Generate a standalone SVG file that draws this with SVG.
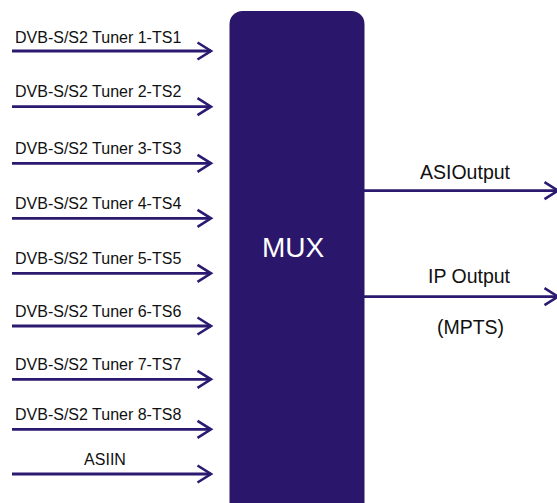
<svg xmlns="http://www.w3.org/2000/svg" width="557" height="503" viewBox="0 0 557 503">
<defs>
<marker id="chev" markerUnits="userSpaceOnUse" markerWidth="20" markerHeight="22" refX="15" refY="10" orient="auto" viewBox="0 0 20 22">
<path d="M1.5,1.5 L15,10 L1.5,18.5" fill="none" stroke="#2b1a70" stroke-width="2.6" stroke-linejoin="miter"/>
</marker>
<style>
.lbl{font-family:"Liberation Sans",Arial,sans-serif;font-size:16px;fill:#111}
.out{font-family:"Liberation Sans",Arial,sans-serif;font-size:19.5px;fill:#111;text-anchor:middle}
.ln{stroke:#2b1a70;stroke-width:2.8;fill:none;marker-end:url(#chev)}
</style>
</defs>
<rect width="557" height="503" fill="#fff"/>
<g id="mux">
<rect x="229.5" y="11" width="135" height="520" rx="13" fill="#2a176b"/>
<text x="293" y="256.5" font-family="Liberation Sans,Arial,sans-serif" font-size="28" fill="#fff" text-anchor="middle">MUX</text>
</g>
<g id="connectors">
<line class="ln" x1="12" y1="51" x2="211" y2="51"/>
<line class="ln" x1="12" y1="106.7" x2="211" y2="106.7"/>
<line class="ln" x1="12" y1="163.3" x2="211" y2="163.3"/>
<line class="ln" x1="12" y1="218.3" x2="211" y2="218.3"/>
<line class="ln" x1="12" y1="273.3" x2="211" y2="273.3"/>
<line class="ln" x1="12" y1="326" x2="211" y2="326"/>
<line class="ln" x1="12" y1="379.3" x2="211" y2="379.3"/>
<line class="ln" x1="12" y1="429.3" x2="211" y2="429.3"/>
<line class="ln" x1="12" y1="474" x2="211" y2="474"/>
<line class="ln" x1="364" y1="190.7" x2="558" y2="190.7"/>
<line class="ln" x1="364" y1="296.7" x2="558" y2="296.7"/>
</g>
<g id="in1"><text class="lbl" x="15" y="42.7">DVB-S/S2 Tuner 1-TS1</text></g>
<g id="in2"><text class="lbl" x="15" y="97.3">DVB-S/S2 Tuner 2-TS2</text></g>
<g id="in3"><text class="lbl" x="15" y="154">DVB-S/S2 Tuner 3-TS3</text></g>
<g id="in4"><text class="lbl" x="15" y="209">DVB-S/S2 Tuner 4-TS4</text></g>
<g id="in5"><text class="lbl" x="15" y="264">DVB-S/S2 Tuner 5-TS5</text></g>
<g id="in6"><text class="lbl" x="15" y="316.7">DVB-S/S2 Tuner 6-TS6</text></g>
<g id="in7"><text class="lbl" x="15" y="370">DVB-S/S2 Tuner 7-TS7</text></g>
<g id="in8"><text class="lbl" x="15" y="420">DVB-S/S2 Tuner 8-TS8</text></g>
<g id="asiin"><text class="lbl" x="105" y="465" text-anchor="middle">ASIIN</text></g>
<g id="asiout"><text class="out" x="465" y="179">ASIOutput</text></g>
<g id="ipout"><text class="out" x="469" y="283">IP Output</text>
<text class="out" x="470.5" y="334">(MPTS)</text></g>
</svg>
